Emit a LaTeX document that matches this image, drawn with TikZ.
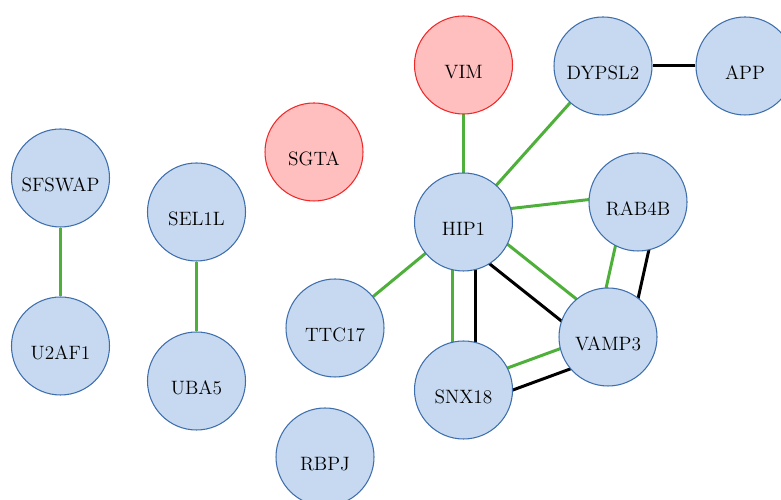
\documentclass[tikz,border=0pt]{standalone}
\usetikzlibrary{calc}
\usetikzlibrary{backgrounds}

\begin{document}
\begin{tikzpicture}[
  gene/.style={circle, draw=NodeEdge, fill=NodeBlue, line width=0.6pt, minimum size=1.96cm,
    inner sep=0pt, font=\fontsize{11}{13}\selectfont, text height=15pt, text depth=0pt},
  hit/.style={gene, draw=HitEdge, fill=HitFill},
  greenlink/.style={draw=LinkGreen, line width=1.7pt},
  blacklink/.style={draw=black, line width=1.7pt}]
\definecolor{NodeBlue}{RGB}{198,217,240}
\definecolor{NodeEdge}{RGB}{62,110,172}
\definecolor{HitFill}{RGB}{255,191,191}
\definecolor{HitEdge}{RGB}{240,40,40}
\definecolor{LinkGreen}{RGB}{78,176,58}

\clip (0,0) rectangle (15.62,10);

% nodes
\node[hit]  (VIM)    at (9.27,8.70) {VIM};
\node[gene] (DYPSL2) at (12.06,8.68) {DYPSL2};
\node[gene] (APP)    at (14.90,8.68) {APP};
\node[hit]  (SGTA)   at (6.28,6.96) {SGTA};
\node[gene] (SFSWAP) at (1.21,6.44) {SFSWAP};
\node[gene] (SEL1L)  at (3.93,5.76) {SEL1L};
\node[gene] (HIP1)   at (9.27,5.56) {HIP1};
\node[gene] (RAB4B)  at (12.76,5.96) {RAB4B};
\node[gene] (TTC17)  at (6.70,3.44) {TTC17};
\node[gene] (VAMP3)  at (12.16,3.26) {VAMP3};
\node[gene] (U2AF1)  at (1.21,3.08) {U2AF1};
\node[gene] (UBA5)   at (3.93,2.38) {UBA5};
\node[gene] (SNX18)  at (9.27,2.20) {SNX18};
\node[gene] (RBPJ)   at (6.50,0.86) {RBPJ};

\begin{pgfonlayer}{background}
% single links
\draw[greenlink] (SFSWAP) -- (U2AF1);
\draw[greenlink] (SEL1L) -- (UBA5);
\draw[greenlink] (VIM.center) -- (HIP1.center);
\draw[greenlink] (DYPSL2.center) -- (HIP1.center);
\draw[blacklink] (DYPSL2) -- (APP);
\draw[greenlink] ($(HIP1)!0.16cm!90:(RAB4B)$) -- ($(RAB4B)!0.16cm!-90:(HIP1)$);
\draw[greenlink] (HIP1.center) -- (TTC17.center);

% double links
\draw[greenlink] ($(HIP1)!0.23cm!-90:(SNX18)$) -- ($(SNX18)!0.23cm!90:(HIP1)$);
\draw[blacklink] ($(HIP1)!0.23cm!90:(SNX18)$) -- ($(SNX18)!0.23cm!-90:(HIP1)$);

\draw[greenlink] ($(HIP1)!0.2cm!90:(VAMP3)$) -- ($(VAMP3)!0.2cm!-90:(HIP1)$);
\draw[blacklink] ($(HIP1)!0.33cm!-90:(VAMP3)$) -- ($(VAMP3)!0.33cm!90:(HIP1)$);

\draw[greenlink] ($(RAB4B)!0.25cm!-90:(VAMP3)$) -- ($(VAMP3)!0.25cm!90:(RAB4B)$);
\draw[blacklink] ($(RAB4B)!0.42cm!90:(VAMP3)$) -- ($(VAMP3)!0.42cm!-90:(RAB4B)$);

\draw[greenlink] ($(SNX18)!0.11cm!90:(VAMP3)$) -- ($(VAMP3)!0.11cm!-90:(SNX18)$);
\draw[blacklink] ($(SNX18)!0.34cm!-90:(VAMP3)$) -- ($(VAMP3)!0.34cm!90:(SNX18)$);
\end{pgfonlayer}

\end{tikzpicture}
\end{document}
